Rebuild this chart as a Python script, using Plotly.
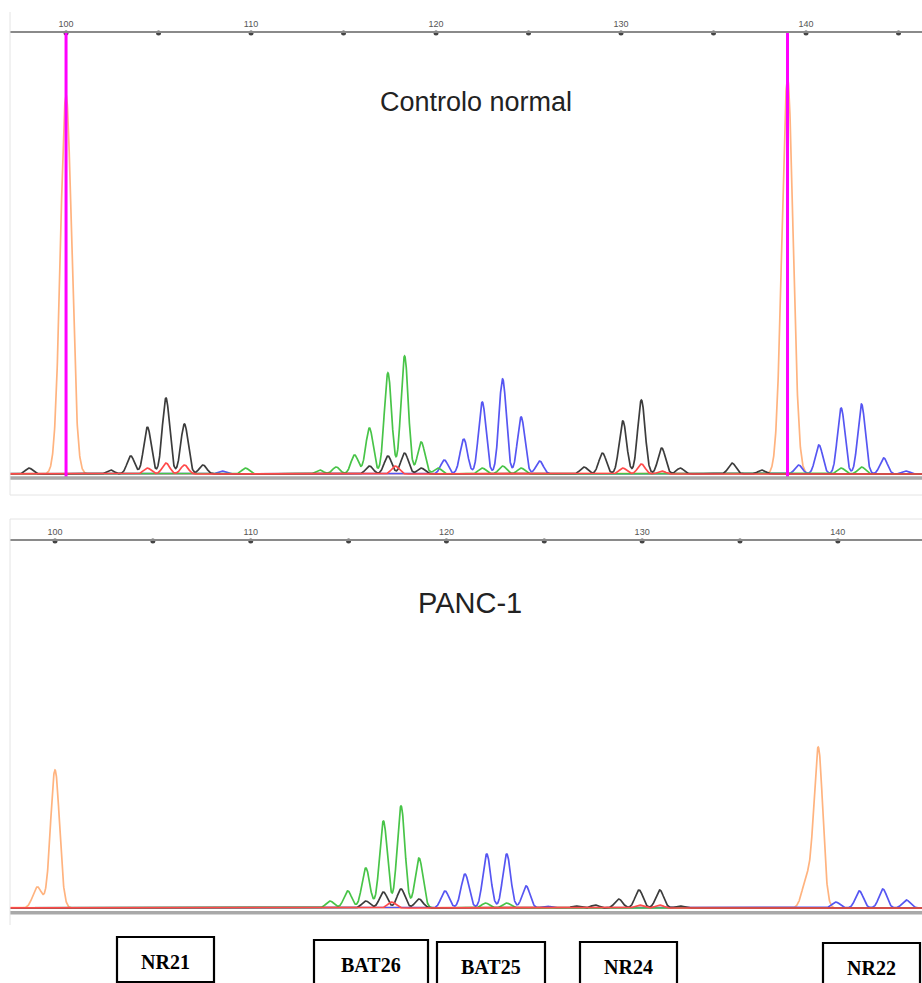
import numpy as np
import plotly.graph_objects as go

# ---- fragment sizes (bp) and peak heights (RFU) per dye channel ----
# Controlo normal
ctrl_orange_bp = [100.0, 139.0]
ctrl_orange_rfu = [7580, 7920]
ctrl_blue_bp = [108.4, 120.45, 121.5, 122.5, 123.6, 124.6, 125.6,
                139.6, 140.7, 141.9, 143.0, 144.2, 145.4]
ctrl_blue_rfu = [60, 280, 700, 1440, 1900, 1140, 260,
                 180, 580, 1320, 1400, 320, 60]
ctrl_green_bp = [109.7, 113.7, 114.6, 115.6, 116.4, 117.4, 118.3, 119.2,
                 120.1, 122.5, 123.6, 124.6, 141.9, 143.0]
ctrl_green_rfu = [120, 80, 140, 380, 920, 2020, 2360, 640,
                  120, 120, 160, 120, 120, 140]
ctrl_black_bp = [98.0, 102.4, 103.5, 104.4, 105.4, 106.4, 107.4,
                 116.4, 117.4, 118.3, 119.2,
                 128.0, 129.0, 130.1, 131.1, 132.2, 133.2, 136.0, 137.6]
ctrl_black_rfu = [120, 80, 360, 940, 1520, 1000, 180,
                  160, 360, 420, 120,
                  140, 420, 1060, 1480, 520, 120, 220, 80]
ctrl_red_bp = [104.4, 105.4, 106.4, 117.8, 130.1, 131.1, 132.2]
ctrl_red_rfu = [120, 220, 180, 160, 120, 200, 60]

# PANC-1
panc_orange_bp = [99.1, 100.0, 138.4, 139.0]
panc_orange_rfu = [420, 2760, 560, 3200]
panc_blue_bp = [119.93, 120.95, 122.06, 123.08, 124.07, 125.1,
                139.9, 141.1, 142.3, 143.5]
panc_blue_rfu = [340, 680, 1080, 1080, 440, 40,
                 120, 340, 380, 160]
panc_green_bp = [114.05, 114.96, 115.88, 116.78, 117.68, 118.6, 122.0, 123.08]
panc_green_rfu = [140, 340, 800, 1740, 2040, 1000, 100, 100]
panc_black_bp = [115.88, 116.78, 117.68, 118.6,
                 126.6, 127.6, 128.8, 129.84, 130.9, 131.9]
panc_black_rfu = [140, 320, 380, 180,
                  40, 60, 180, 360, 360, 40]
panc_red_bp = [117.2, 129.84, 130.9]
panc_red_rfu = [120, 60, 60]

# size-standard reference fragments (bp)
std_markers = [100.0, 139.0]

# axis ticks
major_ticks = [100, 110, 120, 130, 140]
minor_ticks = [100, 105, 110, 115, 120, 125, 130, 135, 140, 145]

panel_titles = ["Controlo normal", "PANC-1"]
marker_names = ["NR21", "BAT26", "BAT25", "NR24", "NR22"]

# ---- figure geometry (pixels) ----
W, H = 922, 983


def px(xp):
    return xp / W


def py(yp):
    return 1 - yp / H


COLORS = {
    "orange": "#ffb37f",
    "blue": "#5656f2",
    "green": "#48c448",
    "black": "#3c3c3c",
    "red": "#ff4a4a",
}

grid = np.arange(96.0, 147.0, 0.01)


def signal(bp, rfu, sigma):
    y = np.zeros_like(grid)
    for c, h in zip(bp, rfu):
        y += h * np.exp(-0.5 * ((grid - c) / sigma) ** 2)
    return y


fig = go.Figure()

panels = [
    dict(xa="x", ya="y",
         orange=(ctrl_orange_bp, ctrl_orange_rfu, 0.30),
         blue=(ctrl_blue_bp, ctrl_blue_rfu, 0.2),
         green=(ctrl_green_bp, ctrl_green_rfu, 0.2),
         black=(ctrl_black_bp, ctrl_black_rfu, 0.2),
         red=(ctrl_red_bp, ctrl_red_rfu, 0.2)),
    dict(xa="x2", ya="y2",
         orange=(panc_orange_bp, panc_orange_rfu, 0.23),
         blue=(panc_blue_bp, panc_blue_rfu, 0.2),
         green=(panc_green_bp, panc_green_rfu, 0.2),
         black=(panc_black_bp, panc_black_rfu, 0.2),
         red=(panc_red_bp, panc_red_rfu, 0.2)),
]

for p in panels:
    for dye in ["orange", "blue", "green", "black", "red"]:
        bp, rfu, sg = p[dye]
        fig.add_trace(go.Scatter(
            x=grid, y=signal(bp, rfu, sg), mode="lines",
            line=dict(color=COLORS[dye], width=1.7),
            xaxis=p["xa"], yaxis=p["ya"], hoverinfo="skip",
            showlegend=False))

# y ranges (RFU): baseline sits a little above the bottom of each panel
y1_range = [-420, 8820]
y2_range = [-300, 7340]

# size-standard lines on the control run
for v in std_markers:
    fig.add_shape(type="line", xref="x", yref="y domain",
                  x0=v, x1=v, y0=0.035, y1=1,
                  line=dict(color="#ff00ff", width=3))

# tick dots on the axis lines
top_dots = minor_ticks
bot_dots = [t for t in minor_ticks if t <= 144]
fig.add_trace(go.Scatter(
    x=top_dots, y=[y1_range[1]] * len(top_dots), mode="markers",
    marker=dict(color="#444444", size=5), cliponaxis=False,
    xaxis="x", yaxis="y", hoverinfo="skip", showlegend=False))
fig.add_trace(go.Scatter(
    x=bot_dots, y=[y2_range[1]] * len(bot_dots), mode="markers",
    marker=dict(color="#444444", size=5), cliponaxis=False,
    xaxis="x2", yaxis="y2", hoverinfo="skip", showlegend=False))

# grey strip under each trace baseline
fig.add_shape(type="line", xref="x domain", yref="y", x0=0, x1=1,
              y0=-80, y1=-80, line=dict(color="#a9a9a9", width=3.5))
fig.add_shape(type="line", xref="x2 domain", yref="y2", x0=0, x1=1,
              y0=-94, y1=-94, line=dict(color="#a9a9a9", width=3.5))

# light panel frames
frame = dict(color="#e4e4e4", width=1)
fig.add_shape(type="line", xref="paper", yref="paper",
              x0=px(10), x1=px(10), y0=py(12), y1=py(495), line=frame)
fig.add_shape(type="line", xref="paper", yref="paper",
              x0=px(10), x1=px(922), y0=py(495), y1=py(495), line=frame)
fig.add_shape(type="line", xref="paper", yref="paper",
              x0=px(10), x1=px(922), y0=py(519), y1=py(519), line=frame)
fig.add_shape(type="line", xref="paper", yref="paper",
              x0=px(10), x1=px(10), y0=py(519), y1=py(925), line=frame)

# panel titles
for title, (tx, ty), fs in zip(panel_titles, [(476, 102), (470, 603)],
                               [27, 29]):
    fig.add_annotation(text=title, xref="paper", yref="paper",
                       x=px(tx), y=py(ty), showarrow=False,
                       xanchor="center", yanchor="middle",
                       font=dict(family="Liberation Sans", size=fs,
                                 color="#222222"))

# microsatellite marker boxes
boxes = [(117, 937, 214, 982), (314, 940, 428, 995), (437, 942, 545, 995),
         (580, 942, 677, 995), (823, 943, 920, 995)]
for name, (x0, y0, x1, y1) in zip(marker_names, boxes):
    fig.add_shape(type="rect", xref="paper", yref="paper",
                  x0=px(x0), x1=px(x1), y0=py(y1), y1=py(y0),
                  line=dict(color="#000000", width=2.2))
    fig.add_annotation(text=f"<b>{name}</b>", xref="paper", yref="paper",
                       x=px((x0 + x1) / 2), y=py(y0 + 25), showarrow=False,
                       xanchor="center", yanchor="middle",
                       font=dict(family="Liberation Serif", size=20,
                                 color="#000000"))

axis_common = dict(side="top", showline=True, linecolor="#8a8a8a",
                   linewidth=2, tickvals=major_ticks, ticks="",
                   showgrid=False, zeroline=False,
                   tickfont=dict(family="Liberation Sans", size=9,
                                 color="#555555"))

fig.update_layout(
    width=W, height=H,
    margin=dict(l=0, r=0, t=0, b=0),
    paper_bgcolor="white", plot_bgcolor="white",
    showlegend=False,
    xaxis=dict(domain=[px(10), 1], anchor="y", range=[96.97, 146.27],
               **axis_common),
    yaxis=dict(domain=[py(495), py(33)], range=y1_range, visible=False),
    xaxis2=dict(domain=[px(10), 1], anchor="y2", range=[97.70, 144.30],
                **axis_common),
    yaxis2=dict(domain=[py(923), py(541)], range=y2_range, visible=False),
)

fig.write_html("out.html")
